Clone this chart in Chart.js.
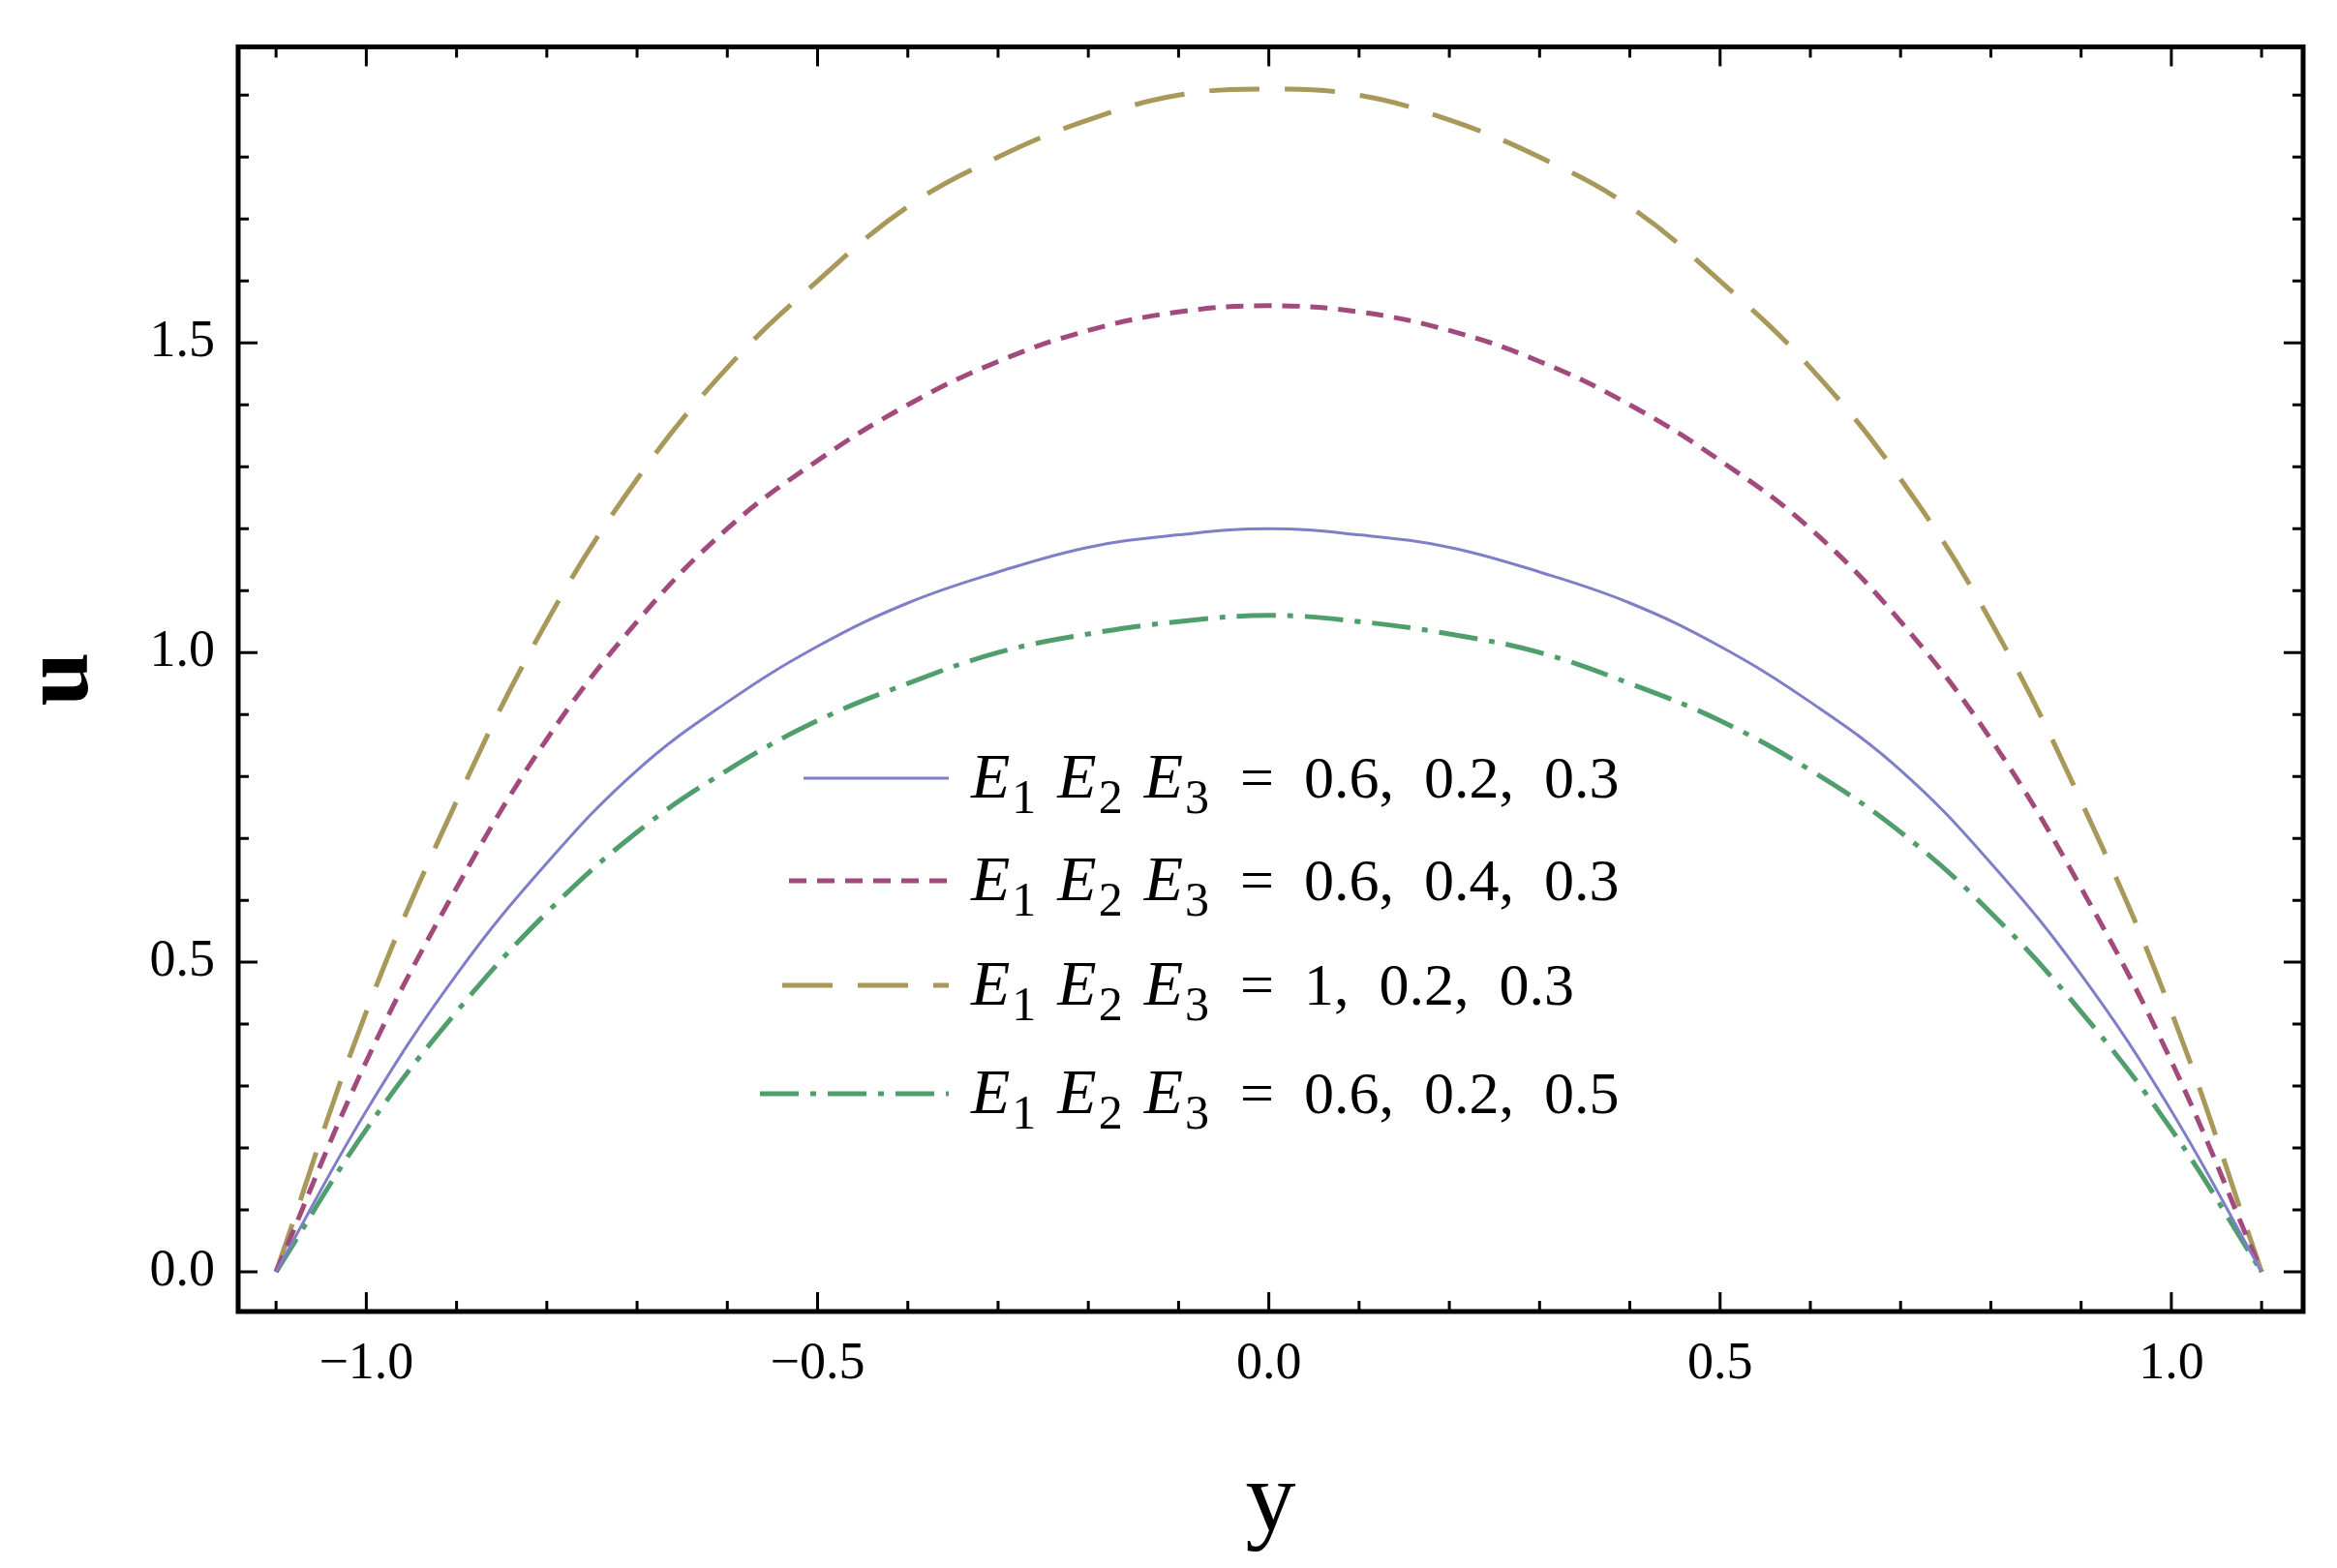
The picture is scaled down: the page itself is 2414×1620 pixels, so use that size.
<!DOCTYPE html>
<html>
<head>
<meta charset="utf-8">
<script src="https://cdn.jsdelivr.net/npm/chart.js@4.4.1/dist/chart.umd.min.js"></script>
<style>
  html, body { margin: 0; padding: 0; background: #fff; }
  #wrap { width: 2414px; height: 1620px; }
</style>
</head>
<body>
<div id="wrap"><canvas id="chart" width="2414" height="1620"></canvas></div>
<script>
const yPos = [-1.1, -1.0, -0.9, -0.8, -0.7, -0.6, -0.5, -0.4, -0.3, -0.2, -0.1, 0,
              0.1, 0.2, 0.3, 0.4, 0.5, 0.6, 0.7, 0.8, 0.9, 1.0, 1.1];
const blueHalf   = [0, 0.26, 0.48, 0.66, 0.81, 0.92, 1.01, 1.08, 1.13, 1.17, 1.19, 1.20];
const purpleHalf = [0, 0.34, 0.62, 0.86, 1.05, 1.20, 1.31, 1.40, 1.47, 1.52, 1.55, 1.56];
const goldHalf   = [0, 0.42, 0.76, 1.05, 1.28, 1.46, 1.60, 1.72, 1.80, 1.86, 1.90, 1.91];
const greenHalf  = [0, 0.23, 0.42, 0.58, 0.71, 0.81, 0.89, 0.95, 1.00, 1.03, 1.05, 1.06];
const legendValues = ['0.6,  0.2,  0.3', '0.6,  0.4,  0.3', '1,  0.2,  0.3', '0.6,  0.2,  0.5'];
const xTicks = [-1.0, -0.5, 0.0, 0.5, 1.0];
const yTicks = [0.0, 0.5, 1.0, 1.5];

function mirror(half) {
    return half.concat(half.slice(0, -1).reverse());
}
function toPoints(vals) {
    return vals.map((v, i) => ({ x: yPos[i], y: v }));
}

const series = [
    { data: mirror(blueHalf),   color: '#7f7fc8', width: 3, dash: [], lx: 830 },
    { data: mirror(purpleHalf), color: '#a24a7c', width: 5, dash: [18, 11], lx: 815 },
    { data: mirror(goldHalf),   color: '#a8985a', width: 5, dash: [52, 26], lx: 808 },
    { data: mirror(greenHalf),  color: '#4f9e6c', width: 5, dash: [40, 12, 6, 12], lx: 785 }
];

const frameTicks = {
    id: 'frameTicks',
    afterDraw(chart) {
        const ctx = chart.ctx;
        const a = chart.chartArea;
        const xs = chart.scales.x, ys = chart.scales.y;
        ctx.save();
        ctx.strokeStyle = '#000';
        ctx.lineWidth = 3;
        for (let k = -11; k <= 11; k++) {
            const px = xs.getPixelForValue(k / 10);
            const len = (k % 5 === 0) ? 20 : 11;
            ctx.beginPath();
            ctx.moveTo(px, a.bottom); ctx.lineTo(px, a.bottom - len);
            ctx.moveTo(px, a.top); ctx.lineTo(px, a.top + len);
            ctx.stroke();
        }
        for (let k = 0; k <= 19; k++) {
            const py = ys.getPixelForValue(k / 10);
            const len = (k % 5 === 0) ? 20 : 11;
            ctx.beginPath();
            ctx.moveTo(a.left, py); ctx.lineTo(a.left + len, py);
            ctx.moveTo(a.right, py); ctx.lineTo(a.right - len, py);
            ctx.stroke();
        }
        ctx.lineWidth = 5;
        ctx.strokeRect(a.left, a.top, a.right - a.left, a.bottom - a.top);

        // legend
        const rows = [804, 910, 1018, 1130];
        rows.forEach((ry, i) => {
            const s = series[i];
            ctx.strokeStyle = s.color;
            ctx.lineWidth = s.width;
            ctx.setLineDash(s.dash);
            ctx.beginPath();
            ctx.moveTo(s.lx, ry); ctx.lineTo(980, ry);
            ctx.stroke();
            ctx.setLineDash([]);
            ctx.fillStyle = '#000';
            ctx.textBaseline = 'alphabetic';
            let x = 1003;
            const base = ry + 20;
            for (let n = 1; n <= 3; n++) {
                ctx.font = 'italic 66px "Liberation Serif"';
                ctx.fillText('E', x, base);
                x += ctx.measureText('E').width + 2;
                ctx.font = '50px "Liberation Serif"';
                ctx.fillText(String(n), x, base + 16);
                x += ctx.measureText(String(n)).width + 22;
            }
            ctx.font = '62px "Liberation Serif"';
            ctx.fillText('=  ' + legendValues[i], x + 10, base);
        });
        ctx.restore();
    }
};

new Chart(document.getElementById('chart'), {
    type: 'line',
    data: {
        datasets: series.map(s => ({
            data: toPoints(s.data),
            borderColor: s.color,
            borderWidth: s.width,
            borderDash: s.dash,
            pointRadius: 0,
            tension: 0.4,
            fill: false
        }))
    },
    options: {
        responsive: false,
        animation: false,
        layout: { padding: { top: 38, right: 35, left: 0, bottom: 0 } },
        plugins: { legend: { display: false }, tooltip: { enabled: false } },
        scales: {
            x: {
                type: 'linear', min: -1.142, max: 1.146,
                afterBuildTicks: sc => { sc.ticks = xTicks.map(v => ({ value: v })); },
                afterFit: sc => { sc.height = 265; },
                grid: { display: false },
                border: { display: false },
                ticks: {
                    color: '#000', padding: 14,
                    font: { family: 'Liberation Serif', size: 54 },
                    callback: v => v.toFixed(1).replace('-', '\u2212')
                },
                title: {
                    display: true, text: 'y', color: '#000', padding: { top: 0 },
                    font: { family: 'Liberation Serif', size: 104 }
                }
            },
            y: {
                type: 'linear', min: -0.064, max: 1.978,
                afterBuildTicks: sc => { sc.ticks = yTicks.map(v => ({ value: v })); },
                afterFit: sc => { sc.width = 246; },
                grid: { display: false },
                border: { display: false },
                ticks: {
                    color: '#000', padding: 16,
                    font: { family: 'Liberation Serif', size: 54 },
                    callback: v => v.toFixed(1)
                },
                title: {
                    display: true, text: 'u', color: '#000', padding: { bottom: 4 },
                    font: { family: 'Liberation Serif', size: 100, weight: 'bold' }
                }
            }
        }
    },
    plugins: [frameTicks]
});
</script>
</body>
</html>
